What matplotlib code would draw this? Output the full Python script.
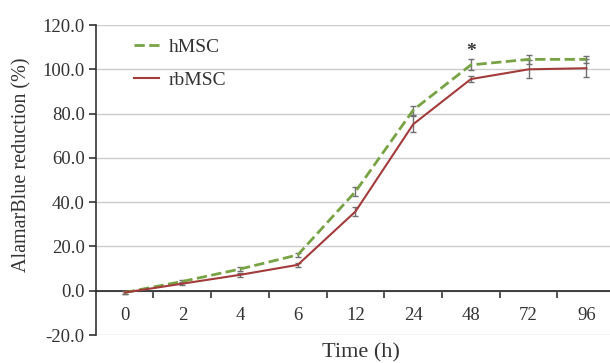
import numpy as np
import matplotlib.pyplot as plt
from matplotlib.lines import Line2D

times = ['0', '2', '4', '6', '12', '24', '48', '72', '96']
hmsc = [-0.8, 4.2, 9.8, 16.2, 44.8, 81.6, 102.0, 104.5, 104.5]
hmsc_err = [0.5, 0.8, 1.0, 1.0, 2.0, 2.0, 2.5, 2.0, 1.5]
rbmsc = [-0.8, 3.2, 7.2, 11.7, 35.8, 75.2, 95.6, 100.0, 100.5]
rbmsc_err = [0.5, 0.8, 0.8, 1.0, 2.0, 3.5, 1.5, 4.0, 4.0]

plt.rcParams['font.family'] = 'Liberation Serif'
plt.rcParams['text.color'] = '#333333'
plt.rcParams['xtick.color'] = '#333333'
plt.rcParams['ytick.color'] = '#333333'

green = '#77a345'
red = '#a33b3b'

fig = plt.figure(figsize=(6.1, 3.63), dpi=100)
ax = fig.add_axes([0.157, 0.077, 0.843, 0.854])
x = np.arange(len(times))

ax.errorbar(x, hmsc, yerr=hmsc_err, color=green, ls='--', lw=2,
            ecolor='#707070', elinewidth=1, capsize=2.5, zorder=3)
ax.errorbar(x, rbmsc, yerr=rbmsc_err, color=red, ls='-', lw=1.5,
            ecolor='#707070', elinewidth=1, capsize=2.5, zorder=3)
ax.text(6, 108, '*', ha='center', va='center', fontsize=14, fontweight='bold')

ax.set_ylim(-20, 120)
ax.set_xlim(-0.5, 8.41)
ax.set_yticks(np.arange(-20, 121, 20))
ax.set_yticklabels(['%.1f' % v for v in np.arange(-20, 121, 20)], fontsize=13.5)
ax.grid(axis='y', color='#cccccc', lw=1)
ax.set_axisbelow(True)

ax.spines['top'].set_visible(False)
ax.spines['right'].set_visible(False)
ax.spines['bottom'].set_position(('data', 0))
ax.spines['left'].set_color('#333333')
ax.spines['bottom'].set_color('#222222')
ax.spines['left'].set_linewidth(1.2)
ax.spines['bottom'].set_linewidth(1.2)

ax.set_xticks(x)
ax.set_xticklabels(times, fontsize=13.5)
ax.set_xticks(x[:-1] + 0.5, minor=True)
ax.tick_params(axis='x', which='major', length=0, pad=12)
ax.tick_params(axis='x', which='minor', length=5, direction='out', width=1.2)
ax.tick_params(axis='y', length=5, width=1.2, pad=3)

fig.text(0.036, 0.545, 'AlamarBlue reduction (%)', rotation=90,
         ha='center', va='center', fontsize=14.5)
fig.text(0.592, 0.027, 'Time (h)', ha='center', va='center', fontsize=16)

handles = [Line2D([], [], color=green, ls='--', lw=2),
           Line2D([], [], color=red, ls='-', lw=1.5)]
ax.legend(handles, ['hMSC', 'rbMSC'], loc='upper left',
          bbox_to_anchor=(0.04, 1.015), frameon=False, fontsize=14,
          handlelength=1.3, handletextpad=0.5, labelspacing=0.8)

fig.savefig('out.png')
